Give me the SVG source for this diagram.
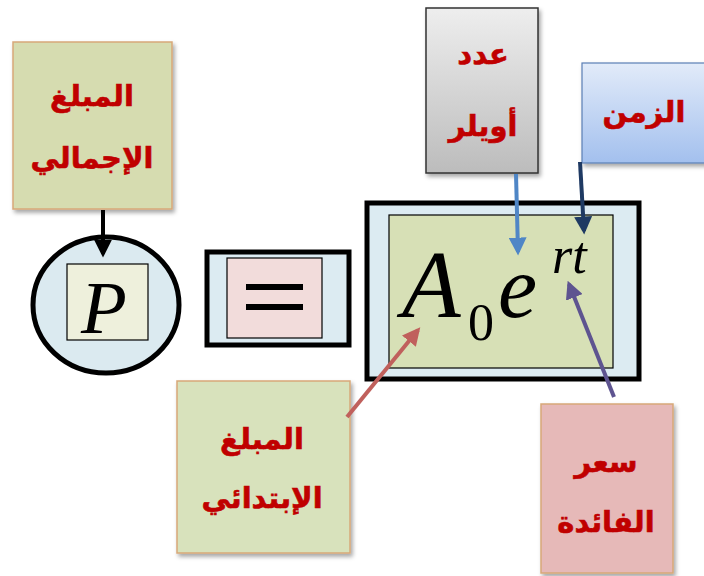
<svg xmlns="http://www.w3.org/2000/svg" width="704" height="576" viewBox="0 0 704 576">
<defs>
<style>
.lbl{font-family:"DejaVu Sans",sans-serif;font-weight:bold;font-size:29px;fill:#c00000;stroke:#c00000;stroke-width:0.6;text-anchor:middle}
.math{font-family:"Liberation Serif","Times New Roman",serif;font-style:italic;fill:#000}
.up{font-style:normal}
.box{stroke:#d7a878;stroke-width:1.5}
.thick{stroke:#000;stroke-width:5}
.thin{stroke:#000;stroke-width:1.2}
</style>
<filter id="sh" x="-10%" y="-10%" width="130%" height="130%">
<feDropShadow dx="2" dy="3" stdDeviation="2" flood-color="#000" flood-opacity="0.35"/>
</filter>
<linearGradient id="gGray" x1="0" y1="0" x2="0" y2="1">
<stop offset="0" stop-color="#eeeeee"/><stop offset="1" stop-color="#bcbcbc"/>
</linearGradient>
<linearGradient id="gBlue" x1="0" y1="0" x2="0" y2="1">
<stop offset="0" stop-color="#e2ebf9"/><stop offset="1" stop-color="#a3c0ee"/>
</linearGradient>
<marker id="mBlack" viewBox="0 0 10 10" refX="8" refY="5" markerWidth="4.5" markerHeight="4.5" orient="auto"><path d="M0,0 L10,5 L0,10 z" fill="#000"/></marker>
<marker id="mLBlue" viewBox="0 0 10 10" refX="8" refY="5" markerWidth="4.5" markerHeight="4.5" orient="auto"><path d="M0,0 L10,5 L0,10 z" fill="#4f86c6"/></marker>
<marker id="mNavy" viewBox="0 0 10 10" refX="8" refY="5" markerWidth="4.5" markerHeight="4.5" orient="auto"><path d="M0,0 L10,5 L0,10 z" fill="#1f3a63"/></marker>
<marker id="mRed" viewBox="0 0 10 10" refX="8" refY="5" markerWidth="4.5" markerHeight="4.5" orient="auto"><path d="M0,0 L10,5 L0,10 z" fill="#c0605c"/></marker>
<marker id="mPurp" viewBox="0 0 10 10" refX="8" refY="5" markerWidth="4.5" markerHeight="4.5" orient="auto"><path d="M0,0 L10,5 L0,10 z" fill="#5e5490"/></marker>
</defs>
<rect width="704" height="576" fill="#fff"/>

<g id="total">
<rect x="13" y="42" width="159" height="167" fill="#d6dcb0" class="box" filter="url(#sh)"/>
<text class="lbl" x="92" y="106">المبلغ</text>
<text class="lbl" x="92" y="168">الإجمالي</text>
</g>

<g id="p-node">
<ellipse cx="106" cy="305" rx="73" ry="68" fill="#dbeaf0" class="thick"/>
<rect x="67" y="264" width="81" height="76" fill="#eef0dc" class="thin"/>
<text class="math" x="104" y="333" font-size="75" text-anchor="middle">P</text>
</g>

<g id="equals">
<rect x="207" y="252" width="142" height="93" fill="#dcebf2" class="thick"/>
<rect x="227" y="258" width="95" height="80" fill="#f2dcdb" class="thin"/>
<rect x="246" y="284" width="57" height="6" fill="#000"/>
<rect x="246" y="304" width="57" height="6" fill="#000"/>
</g>

<g id="formula">
<rect x="367" y="203" width="272" height="176" fill="#dcebf2" class="thick"/>
<rect x="389" y="215" width="224" height="153" fill="#d7e0b6" class="thin"/>
<text class="math" x="402" y="317" font-size="96">A</text>
<text class="math up" x="468" y="340" font-size="52">0</text>
<text class="math" x="498" y="317" font-size="88">e</text>
<text class="math" x="552" y="273" font-size="52">rt</text>
</g>

<g id="euler">
<rect x="426" y="8" width="112" height="165" fill="url(#gGray)" stroke="#333" stroke-width="1.5" filter="url(#sh)"/>
<text class="lbl" x="483" y="64">عدد</text>
<text class="lbl" x="483" y="136">أويلر</text>
</g>

<g id="time">
<rect x="582" y="63" width="130" height="100" fill="url(#gBlue)" stroke="#5a7fb5" stroke-width="1.2" filter="url(#sh)"/>
<text class="lbl" x="644" y="122">الزمن</text>
</g>

<g id="initial">
<rect x="177" y="381" width="173" height="172" fill="#d8e2bc" class="box" filter="url(#sh)"/>
<text class="lbl" x="262" y="449">المبلغ</text>
<text class="lbl" x="262" y="508">الإبتدائي</text>
</g>

<g id="rate">
<rect x="541" y="404" width="132" height="169" fill="#e6b9b8" class="box" filter="url(#sh)"/>
<text class="lbl" x="606" y="472">سعر</text>
<text class="lbl" x="606" y="532">الفائدة</text>
</g>

<g id="connectors" fill="none" stroke-width="4">
<line x1="103" y1="210" x2="103" y2="254" stroke="#000" marker-end="url(#mBlack)"/>
<line x1="516" y1="174" x2="518" y2="252" stroke="#4f86c6" marker-end="url(#mLBlue)"/>
<line x1="580" y1="162" x2="584" y2="231" stroke="#1f3a63" marker-end="url(#mNavy)"/>
<line x1="347" y1="417" x2="418" y2="330" stroke="#c0605c" marker-end="url(#mRed)"/>
<line x1="614" y1="397" x2="569" y2="284" stroke="#5e5490" marker-end="url(#mPurp)"/>
</g>
</svg>
